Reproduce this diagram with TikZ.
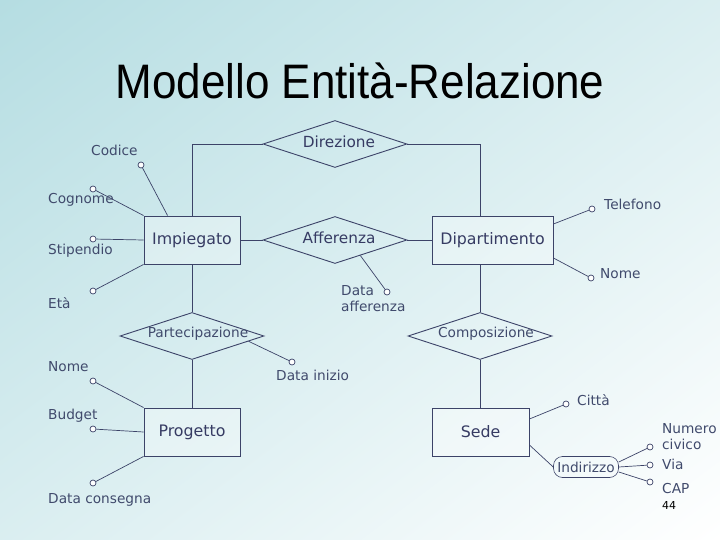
\documentclass[tikz,border=0pt]{standalone}
\usepackage{fontspec}
\setmainfont{DejaVu Sans}
\newfontfamily\titlefont{Liberation Sans}
\usetikzlibrary{shapes.geometric,calc}
\definecolor{bgA}{HTML}{B5DDE2}
\definecolor{edge}{HTML}{3C4368}
\definecolor{txt}{HTML}{363B63}
\definecolor{atxt}{HTML}{404A6C}
\begin{document}
\begin{tikzpicture}[x=1pt,y=-1pt,
  entity/.style={draw=edge, line width=0.9pt, fill=white, fill opacity=0.3, text opacity=1,
    minimum height=48pt, inner sep=0pt, text=txt, font=\fontsize{15.8}{18}\selectfont},
  rel/.style={draw=edge, line width=0.9pt, shape=diamond, minimum width=144pt, minimum height=47pt, inner sep=0pt},
  rellab/.style={text=txt, inner sep=0pt},
  big/.style={font=\fontsize{15.3}{18}\selectfont},
  small/.style={font=\fontsize{13.7}{16}\selectfont},
  attr/.style={draw=edge, line width=0.7pt, fill=white, circle, minimum size=6pt, inner sep=0pt},
  alab/.style={text=atxt, inner sep=0pt, anchor=west, text height=10pt, text depth=3pt, font=\fontsize{13.7}{16}\selectfont},
  conn/.style={draw=edge, line width=0.9pt},
  aconn/.style={draw=edge, line width=0.7pt}]
\useasboundingbox (0,0) rectangle (720,540);
\begin{scope}
  \clip (0,0) rectangle (720,540);
  \begin{scope}[transform canvas={rotate=-53.13}]
    \shade[left color=bgA, right color=white] (0,-620) rectangle (864,620);
  \end{scope}
\end{scope}

% title
\node (title) at (360,81) {\scalebox{1}[1.1]{\titlefont\fontsize{44}{50}\selectfont Modello Entità-Relazione}};

% entities
\node[entity, minimum width=96pt] (imp) at (192,240) {Impiegato};
\node[entity, minimum width=121pt] (dip) at (492.5,240) {Dipartimento};
\node[entity, minimum width=96pt] (prog) at (192,432) {Progetto};
\node[entity, minimum width=97pt] (sede) at (480.5,432) {Sede};

% relationships
\node[rel] (dir) at (335,144) {};
\node[rellab, big] (dirl) at (339,142) {Direzione};
\node[rel] (aff) at (335,240) {};
\node[rellab, big] (affl) at (339,238) {Afferenza};
\node[rel] (part) at (192,336) {};
\node[rellab, small, text=atxt] (partl) at (198,334) {Partecipazione};
\node[rel] (comp) at (480,336) {};
\node[rellab, small, text=atxt] (compl) at (486,334) {Composizione};

% relationship connectors
\draw[conn] (dir.west) -| (imp.north);
\draw[conn] (dir.east) -| ([xshift=-12.5pt]dip.north);
\draw[conn] (imp.east) -- (aff.west);
\draw[conn] (aff.east) -- (dip.west);
\draw[conn] (imp.south) -- (part.north);
\draw[conn] (part.south) -- (prog.north);
\draw[conn] ([xshift=-12.5pt]dip.south) -- (comp.north);
\draw[conn] (comp.south) -- (comp.south |- sede.north);

% attribute circles
\node[attr] (c1) at (141,165) {};
\node[attr] (c2) at (93,189) {};
\node[attr] (c3) at (93,239) {};
\node[attr] (c4) at (93,291) {};
\node[attr] (c5) at (592,209) {};
\node[attr] (c6) at (591,278) {};
\node[attr] (c7) at (387,292) {};
\node[attr] (c8) at (292,362) {};
\node[attr] (c9) at (93,381) {};
\node[attr] (c10) at (93,429) {};
\node[attr] (c11) at (93,483) {};
\node[attr] (c12) at (566,404) {};
\node[draw=edge, line width=0.6pt, rounded corners=9pt, minimum width=65pt, minimum height=21pt, inner sep=1pt,
  text=atxt, font=\fontsize{13.7}{16}\selectfont] (ind) at (586,467) {Indirizzo};
\node[attr] (c13) at (650,447) {};
\node[attr] (c14) at (650,465) {};
\node[attr] (c15) at (650,482) {};

% attribute connectors
\draw[aconn] ([xshift=24pt]imp.north west) -- (c1);
\draw[aconn] (imp.north west) -- (c2);
\draw[aconn] (imp.west) -- (c3);
\draw[aconn] (imp.south west) -- (c4);
\draw[aconn] ([yshift=16pt]dip.east) -- (c5);
\draw[aconn] ([yshift=-18pt]dip.east) -- (c6);
\draw[aconn] ($(aff.south)!0.35!(aff.east)$) -- (c7);
\draw[aconn] ($(part.south)!0.78!(part.east)$) -- (c8);
\draw[aconn] (prog.north west) -- (c9);
\draw[aconn] (prog.west) -- (c10);
\draw[aconn] (prog.south west) -- (c11);
\draw[aconn] ([yshift=13pt]sede.east) -- (c12);
\draw[aconn] ([yshift=-13pt]sede.east) -- (ind.west);
\draw[aconn] ([yshift=5pt]ind.east) -- (c13);
\draw[aconn] (ind.east) -- (c14);
\draw[aconn] ([yshift=-5pt]ind.east) -- (c15);

% attribute labels
\node[alab] (l1) at (91,152) {Codice};
\node[alab] (l2) at (48,200) {Cognome};
\node[alab] (l3) at (48,251) {Stipendio};
\node[alab] (l4) at (48,305) {Età};
\node[alab] (l5) at (604,206) {Telefono};
\node[alab] (l6) at (600,275) {Nome};
\node[alab, text height=, text depth=, align=left] (l7) at (341,299) {Data\\afferenza};
\node[alab] (l8) at (276,377) {Data inizio};
\node[alab] (l9) at (48,368) {Nome};
\node[alab] (l10) at (48,416) {Budget};
\node[alab] (l11) at (48,500) {Data consegna};
\node[alab] (l12) at (577,402) {Città};
\node[alab, text height=, text depth=, align=left] (l13) at (662,437) {Numero\\civico};
\node[alab] (l14) at (662,466) {Via};
\node[alab] (l15) at (662,490) {CAP};
\node[inner sep=0pt, anchor=west, font=\fontsize{11}{13}\selectfont] (pg) at (662,505) {44};
\end{tikzpicture}
\end{document}
